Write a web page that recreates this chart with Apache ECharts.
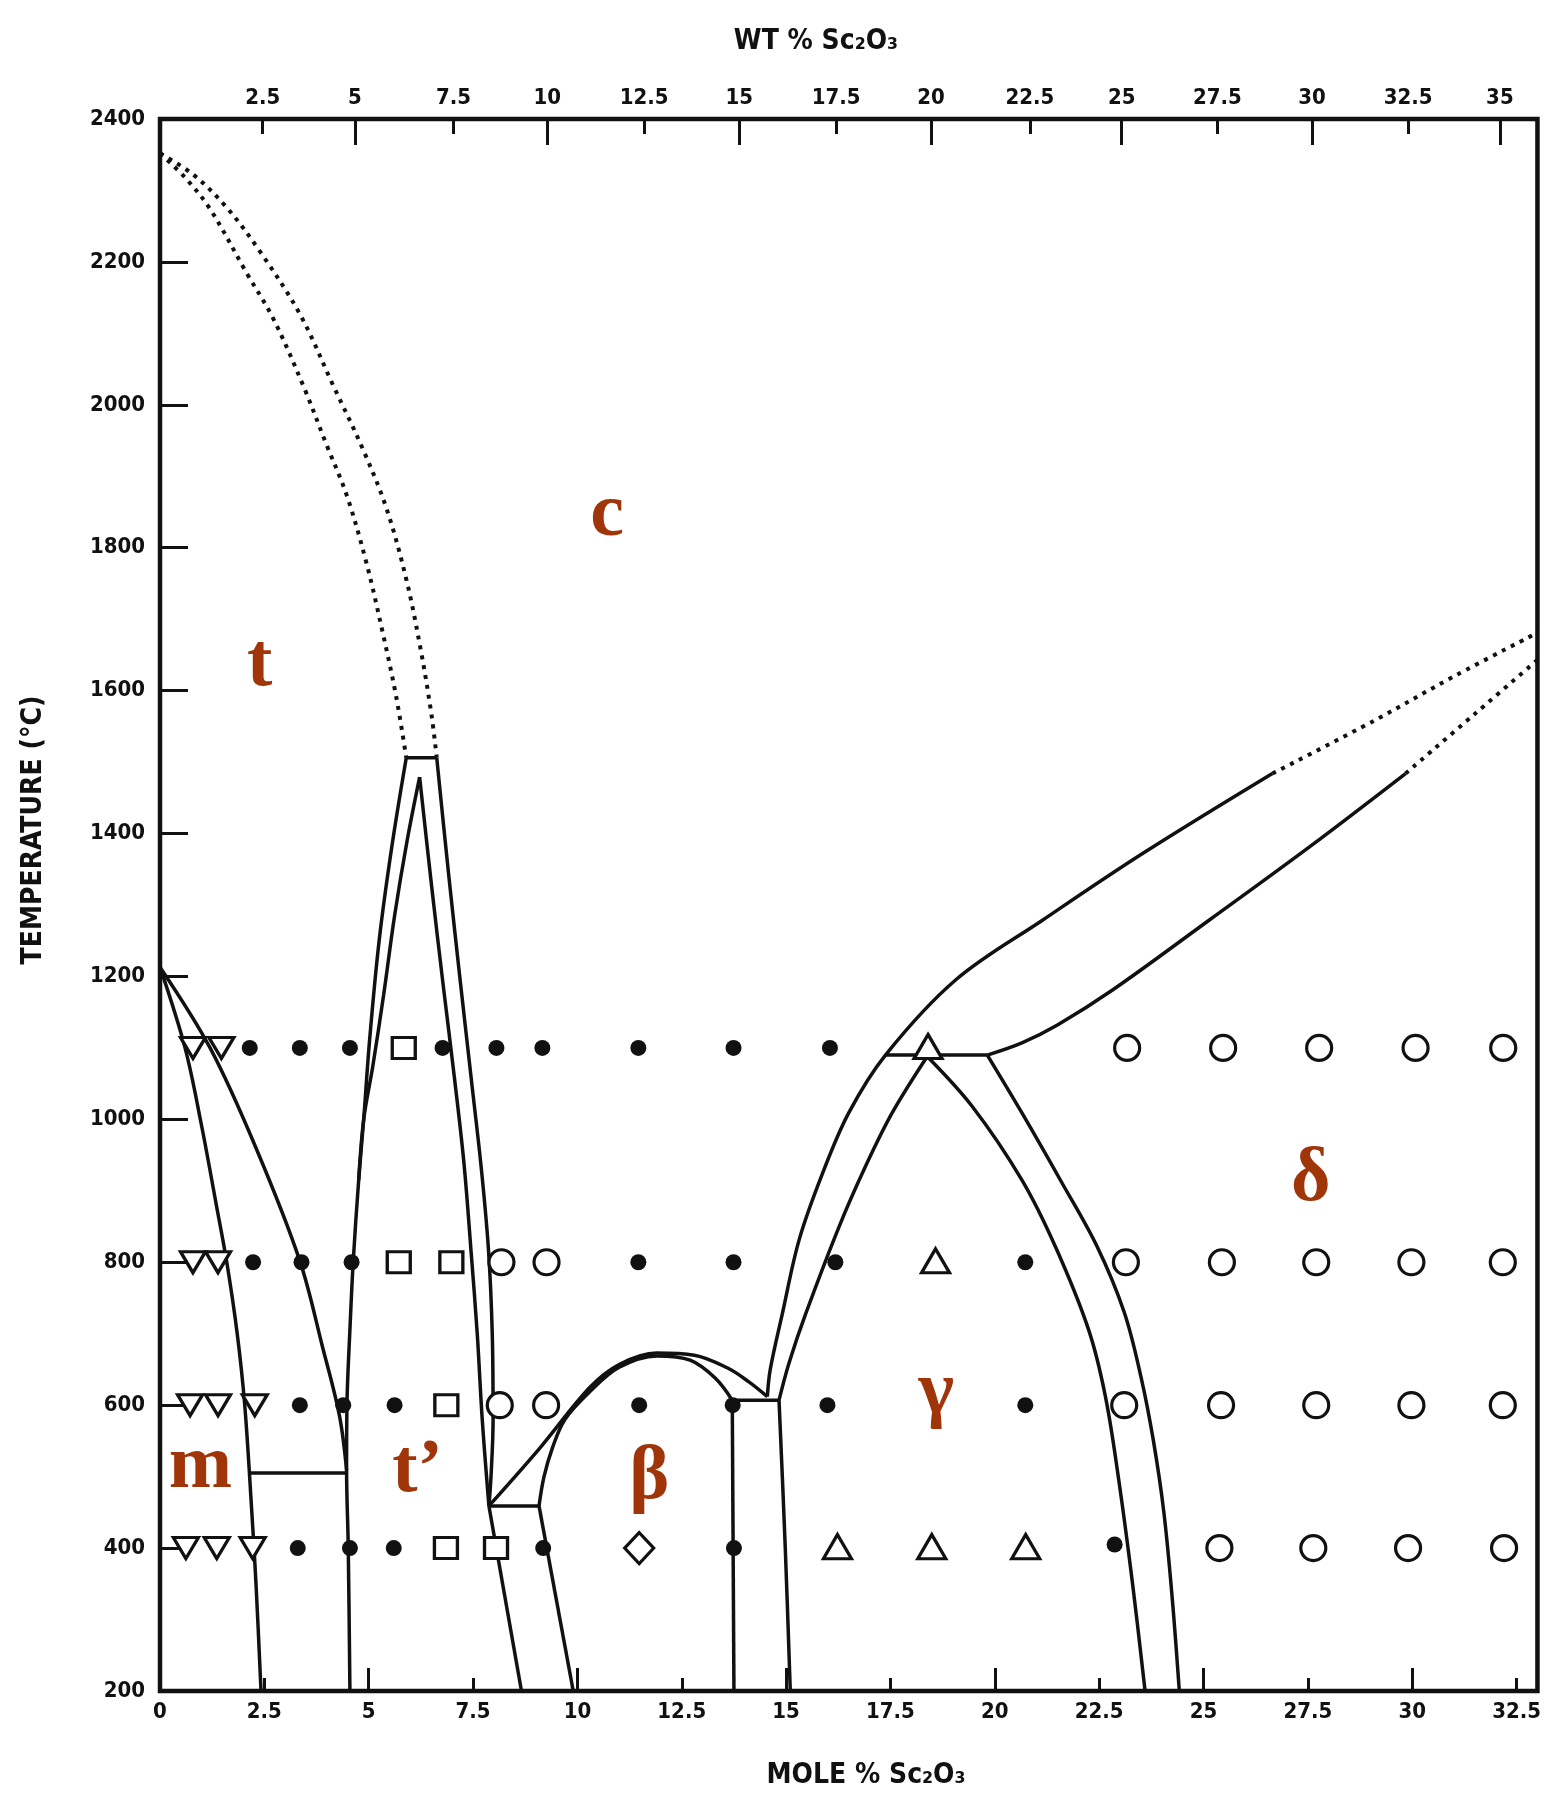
<!DOCTYPE html>
<html><head><meta charset="utf-8">
<script src="https://cdn.jsdelivr.net/npm/echarts@6.0.0/dist/echarts.min.js"></script>
<style>html,body{margin:0;padding:0;background:#fff}#chart{width:1544px;height:1797px}</style>
</head><body><div id="chart"></div>
<script>
// ---------------- data (x = mole % Sc2O3, y = temperature °C) ----------------
const wtLabels = ['2.5','5','7.5','10','12.5','15','17.5','20','22.5','25','27.5','30','32.5','35'];
const wtPosMol = [2.46,4.67,7.03,9.28,11.6,13.88,16.2,18.47,20.84,23.04,25.33,27.6,29.9,32.1];

const dashInner = [[0,2352],[0.6,2318],[1.2,2274],[2.07,2185],[2.71,2121],[3.43,2027],[3.99,1944],[4.47,1874],[4.94,1780],[5.34,1680],[5.66,1591],[5.9,1506]];
const dashOuter = [[0,2352],[0.8,2322],[1.6,2276],[2.39,2215],[3.35,2127],[4.15,2027],[4.86,1938],[5.42,1856],[5.9,1756],[6.25,1656],[6.5,1568],[6.63,1506]];
const tieTop = [[5.9,1506],[6.63,1506]];
const domeLeftOuter = [[5.9,1506],[5.55,1380],[5.25,1250],[5.02,1110],[4.88,1000],[4.76,915],[4.63,802],[4.55,706],[4.48,603],[4.47,509],[4.51,401],[4.55,200]];
const domeLeftInner = [[6.22,1479],[5.92,1390],[5.62,1285],[5.36,1175],[5.1,1075],[4.88,1000],[4.76,915]];
const domeRightInner = [[6.22,1479],[6.5,1330],[6.78,1190],[7.05,1060],[7.28,940],[7.45,817],[7.6,700],[7.72,580],[7.88,459]];
const domeRightOuter = [[6.63,1506],[6.92,1340],[7.2,1190],[7.47,1050],[7.7,930],[7.87,817],[7.96,700],[7.98,580],[7.93,500],[7.88,459]];
const tieTP = [[7.88,459],[9.08,459]];
const lowA = [[7.88,459],[8.66,200]];
const lowB = [[9.08,459],[9.9,200]];
const betaOuter = [[7.88,459],[9.1,540],[10.3,625],[11.0,657],[11.9,673],[12.8,670],[13.6,652],[14.1,633],[14.55,612]];
const betaInner = [[9.08,459],[9.2,500],[9.4,540],[9.7,580],[10.3,619],[11.0,653],[11.9,669],[12.7,663],[13.3,638],[13.71,607]];
const tieBeta = [[13.71,607],[14.83,607]];
const vertA = [[13.71,607],[13.75,200]];
const vertB = [[14.83,607],[14.98,400],[15.1,200]];
const gammaOuterLeft = [[14.55,612],[14.62,650],[14.91,728],[15.31,831],[15.87,924],[16.5,1009],[17.38,1090],[19.06,1195],[21.15,1279],[23.54,1372],[26.65,1484]];
const gammaInnerLeft = [[14.83,607],[15.07,659],[15.47,728],[16.27,850],[16.9,934],[17.54,1009],[18.38,1088]];
const gammaInnerRight = [[18.38,1088],[19.46,1018],[20.65,915],[21.45,822],[22.25,705],[22.65,612],[22.97,495],[23.3,350],[23.6,200]];
const gammaOuterRight = [[19.82,1090],[20.65,1009],[21.6,912],[22.45,822],[23.1,730],[23.5,640],[23.8,550],[24.05,450],[24.25,330],[24.42,200]];
const tieGamma = [[17.38,1090],[19.82,1090]];
const deltaLower = [[19.82,1090],[20.65,1107],[21.5,1132],[22.82,1181],[25.14,1279],[27.53,1381],[29.84,1484]];
const upperDash = [[26.65,1484],[29.12,1559],[31.0,1620],[33,1681]];
const lowerDash = [[29.84,1484],[31.51,1568],[33,1643]];
const mBoundary = [[0,1213],[0.6,1100],[1.0,990],[1.35,880],[1.6,800],[1.85,700],[2.03,600],[2.2,450],[2.3,350],[2.42,200]];
const tBoundary = [[0,1213],[1.2,1100],[2.3,960],[3.35,802],[3.9,680],[4.3,585],[4.47,509]];
const eutM = [[2.15,505],[4.47,505]];

const filledDots = [
  [2.15,1100],[3.35,1100],[4.55,1100],[6.77,1100],[8.06,1100],[9.16,1100],[11.46,1100],[13.74,1100],[16.05,1100],
  [2.23,800],[3.39,800],[4.59,800],[11.46,800],[13.74,800],[16.18,800],[20.73,800],
  [3.35,600],[4.39,600],[5.62,600],[11.48,600],[13.72,600],[15.99,600],[20.73,600],
  [3.3,400],[4.55,400],[5.6,400],[9.18,400],[13.75,400],[22.87,405]
];
const openDownTri = [[0.79,1100],[1.47,1100],[0.79,800],[1.39,800],[0.72,600],[1.39,600],[2.27,600],[0.62,400],[1.36,400],[2.22,400]];
const openSquares = [[5.84,1100],[5.72,800],[6.98,800],[6.86,600],[6.85,400],[8.05,400]];
const openCircles = [
  [23.17,1100],[25.47,1100],[27.77,1100],[30.08,1100],[32.18,1100],
  [8.18,800],[9.26,800],[23.14,800],[25.44,800],[27.7,800],[29.98,800],[32.17,800],
  [8.14,600],[9.25,600],[23.1,600],[25.42,600],[27.7,600],[29.98,600],[32.17,600],
  [25.38,400],[27.63,400],[29.9,400],[32.2,400]
];
const openUpTri = [[18.4,1102],[18.58,802],[16.23,402],[18.49,402],[20.74,402]];
const openDiamond = [[11.48,400]];

const phaseNames = ['c','t','m','t\u2019','\u03b2','\u03b3','\u03b4'];
const phaseX = [10.71,2.39,0.97,6.17,11.72,18.6,27.57];
const phaseT = [1845,1636,513,508,498,617,914];

// ---------------- chart ----------------
const NARROW = "'Liberation Sans Narrow','DejaVu Sans Condensed',sans-serif";
const COND = "'DejaVu Sans Condensed','Liberation Sans Narrow',sans-serif";
const INK = '#111';
const chart = echarts.init(document.getElementById('chart'), null, {renderer:'canvas', width:1544, height:1797});

function line(data, smooth, dashed) {
  return {type:'line', data: data, symbol:'none', silent:true, animation:false, z:2,
    smooth: smooth ? 0.35 : false,
    lineStyle:{color:INK, width: dashed ? 4 : 3.5, opacity:1, type: dashed ? [4,6] : 'solid', cap:'butt'}};
}
function marks(data, symbol, size, filled, rotate) {
  return {type:'scatter', data: data, symbol: symbol, symbolSize: size, symbolRotate: rotate || 0,
    silent:true, animation:false, z:4,
    itemStyle: filled ? {color:INK, opacity:1} : {color:'#fff', borderColor:INK, borderWidth:3.2, opacity:1}};
}
const tickLabel = {fontFamily:NARROW, fontWeight:'bold', fontSize:22, color:INK};
const majorWt = wtPosMol.filter((v,i)=> (parseFloat(wtLabels[i]) % 5) === 0);
const minorWt = wtPosMol.filter((v,i)=> (parseFloat(wtLabels[i]) % 5) !== 0);

const series = [
  line(dashInner,true,true), line(dashOuter,true,true), line(upperDash,true,true), line(lowerDash,true,true),
  line(tieTop), line(domeLeftOuter,true), line(domeLeftInner,true),
  line(domeRightInner,true), line(domeRightOuter,true), line(tieTP), line(lowA), line(lowB),
  line(betaOuter,true), line(betaInner,true), line(tieBeta), line(vertA), line(vertB,true),
  line(gammaOuterLeft,true), line(gammaInnerLeft,true), line(gammaInnerRight,true), line(gammaOuterRight,true),
  line(tieGamma), line(deltaLower,true), line(mBoundary,true), line(tBoundary,true), line(eutM),
  marks(filledDots,'circle',16,true),
  marks(openDownTri,'triangle',[25,21],false,180),
  marks(openSquares,'rect',[23,21],false),
  marks(openCircles,'circle',25,false),
  marks(openUpTri,'triangle',[28,24],false),
  marks(openDiamond,'diamond',[29,31],false),
  {type:'scatter', silent:true, animation:false, z:5, symbolSize:0, itemStyle:{opacity:1},
   data: phaseNames.map((n,i)=>({value:[phaseX[i],phaseT[i]], name:n})),
   label:{show:true, position:'inside', formatter: p => p.name, color:'#a0350a', opacity:1,
     fontFamily:"'Liberation Serif','DejaVu Serif',serif", fontWeight:'bold', fontSize:76}}
];

chart.setOption({
  backgroundColor:'#fff',
  animation:false,
  grid:{left:160, right:5, top:119, bottom:106, show:true, borderColor:INK, borderWidth:4.5, backgroundColor:'transparent'},
  xAxis:[
    {type:'value', min:0, max:33, interval:2.5, position:'bottom',
     axisLine:{show:false}, splitLine:{show:false},
     axisTick:{show:true, inside:true, length:13, lineStyle:{width:3,color:INK}},
     axisLabel:Object.assign({margin:10, formatter: v => (Math.abs(v/2.5 - Math.round(v/2.5))<1e-6 ? String(v) : '')}, tickLabel)},
    {type:'value', min:0, max:33, interval:5, position:'bottom',
     axisLine:{show:false}, splitLine:{show:false}, axisLabel:{show:false},
     axisTick:{show:true, inside:true, length:23, lineStyle:{width:3,color:INK}}},
    {type:'value', min:0, max:33, position:'top',
     axisLine:{show:false}, splitLine:{show:false},
     axisTick:{show:true, inside:true, length:15, customValues:minorWt, lineStyle:{width:3,color:INK}},
     axisLabel:Object.assign({margin:10, customValues:wtPosMol, formatter: v => {
        let best=-1, d=1e9; wtPosMol.forEach((p,i)=>{ if(Math.abs(p-v)<d){d=Math.abs(p-v);best=i;} });
        return d<0.01 ? wtLabels[best] : ''; }}, tickLabel)},
    {type:'value', min:0, max:33, position:'top',
     axisLine:{show:false}, splitLine:{show:false}, axisLabel:{show:false},
     axisTick:{show:true, inside:true, length:26, customValues:majorWt, lineStyle:{width:3,color:INK}}}
  ],
  yAxis:[{type:'value', min:200, max:2400, interval:200, position:'left',
     axisLine:{show:false}, splitLine:{show:false},
     axisTick:{show:true, inside:true, length:28, lineStyle:{width:3,color:INK}},
     axisLabel:Object.assign({margin:15, formatter: v => String(v)}, tickLabel)}],
  graphic:[
    {type:'text', x:34, y:830, rotation:Math.PI/2, silent:true,
     style:{text:'TEMPERATURE (\u00b0C)', align:'center', verticalAlign:'middle', fill:INK,
       font:"bold 28px " + COND}},
    {type:'text', x:866, y:1776, silent:true,
     style:{text:'MOLE % Sc\u2082O\u2083', align:'center', verticalAlign:'middle', fill:INK,
       font:"bold 28px " + COND}},
    {type:'text', x:816, y:42, silent:true,
     style:{text:'WT % Sc\u2082O\u2083', align:'center', verticalAlign:'middle', fill:INK,
       font:"bold 28px " + COND}}
  ],
  series: series
});
</script></body></html>
